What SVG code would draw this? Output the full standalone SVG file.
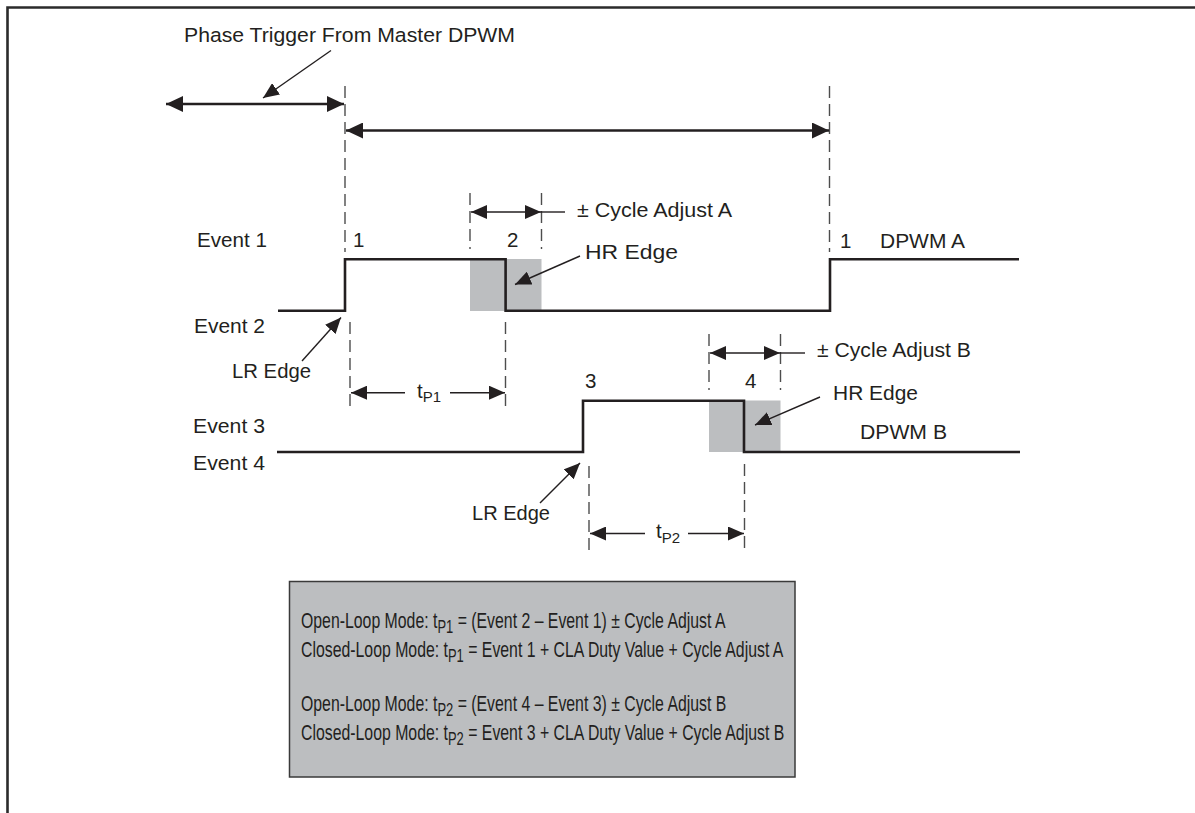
<svg xmlns="http://www.w3.org/2000/svg" width="1195" height="813" viewBox="0 0 1195 813">
<style>
text{font-family:"Liberation Sans",Arial,sans-serif;fill:#231f20;font-size:20.5px}
.sub{font-size:15px}
.bsub{font-size:18px}
.box{font-size:22px}
.wave{fill:none;stroke:#231f20;stroke-width:2.6;stroke-linejoin:miter}
.dash{stroke:#4d4d4d;stroke-width:1.4;stroke-dasharray:12 6;fill:none}
.arr{stroke:#231f20;stroke-width:2.4;fill:none}
.arrs{stroke:#231f20;stroke-width:1.4;fill:none}
.shade{fill:#bcbec0}
</style>
<defs>
<marker id="ah" markerUnits="userSpaceOnUse" markerWidth="17" markerHeight="16" refX="17" refY="8" orient="auto-start-reverse">
<path d="M0,0 L17,8 L0,16 z" fill="#231f20"/>
</marker>
<marker id="ahs" markerUnits="userSpaceOnUse" markerWidth="16" markerHeight="14" refX="16" refY="7" orient="auto-start-reverse">
<path d="M0,0 L16,7 L0,14 z" fill="#231f20"/>
</marker>
</defs>
<rect width="1195" height="813" fill="#fff"/>
<g id="frame">
<path d="M7.5,813 V7.5 H1195" fill="none" stroke="#2b2b2b" stroke-width="2.6"/>
</g>
<g id="shading">
<rect class="shade" x="470" y="259" width="71.5" height="52"/>
<rect class="shade" x="709" y="400.5" width="71.5" height="51.5"/>
</g>
<g id="dashes">
<line class="dash" x1="345" y1="86" x2="345" y2="252"/>
<line class="dash" x1="829.5" y1="86" x2="829.5" y2="252"/>
<line class="dash" x1="470" y1="193" x2="470" y2="249"/>
<line class="dash" x1="541.5" y1="193" x2="541.5" y2="249"/>
<line class="dash" x1="350" y1="322" x2="350" y2="411"/>
<line class="dash" x1="505.5" y1="322" x2="505.5" y2="411"/>
<line class="dash" x1="709" y1="334" x2="709" y2="390"/>
<line class="dash" x1="780.5" y1="334" x2="780.5" y2="390"/>
<line class="dash" x1="589" y1="466" x2="589" y2="553"/>
<line class="dash" x1="744.5" y1="464" x2="744.5" y2="553"/>
</g>
<g id="dpwm-a">
<path class="wave" d="M278,310.7 H345 V259.3 H505.6 V310.7 H830 V259.3 H1019"/>
</g>
<g id="dpwm-b">
<path class="wave" d="M277,452 H583 V400.7 H744 V452 H1020"/>
</g>
<g id="connectors">
<line class="arr" x1="166" y1="104" x2="344" y2="104" marker-start="url(#ah)" marker-end="url(#ah)"/>
<line class="arr" x1="346" y1="130.5" x2="829" y2="130.5" marker-start="url(#ah)" marker-end="url(#ah)"/>
<line class="arrs" x1="331" y1="50.5" x2="263" y2="98" marker-end="url(#ahs)"/>
<line class="arrs" x1="471" y1="212" x2="541" y2="212" marker-start="url(#ahs)" marker-end="url(#ahs)"/>
<line class="arrs" x1="541" y1="212" x2="565" y2="212"/>
<line class="arrs" x1="580" y1="256" x2="515" y2="284.5" marker-end="url(#ahs)"/>
<line class="arrs" x1="302" y1="361" x2="341" y2="317.5" marker-end="url(#ahs)"/>
<line class="arrs" x1="351" y1="392.7" x2="405" y2="392.7" marker-start="url(#ahs)"/>
<line class="arrs" x1="450" y1="392.7" x2="505" y2="392.7" marker-end="url(#ahs)"/>
<line class="arrs" x1="710" y1="353" x2="780" y2="353" marker-start="url(#ahs)" marker-end="url(#ahs)"/>
<line class="arrs" x1="780" y1="353" x2="805" y2="353"/>
<line class="arrs" x1="820" y1="397" x2="755" y2="425" marker-end="url(#ahs)"/>
<line class="arrs" x1="540" y1="503" x2="580" y2="463" marker-end="url(#ahs)"/>
<line class="arrs" x1="590" y1="533.5" x2="645" y2="533.5" marker-start="url(#ahs)"/>
<line class="arrs" x1="688" y1="533.5" x2="744" y2="533.5" marker-end="url(#ahs)"/>
</g>
<g id="labels">
<text x="184" y="42" textLength="331" lengthAdjust="spacingAndGlyphs">Phase Trigger From Master DPWM</text>
<text x="197" y="247" textLength="70" lengthAdjust="spacingAndGlyphs">Event 1</text>
<text x="194" y="333" textLength="71" lengthAdjust="spacingAndGlyphs">Event 2</text>
<text x="193" y="433" textLength="72" lengthAdjust="spacingAndGlyphs">Event 3</text>
<text x="193" y="470" textLength="72" lengthAdjust="spacingAndGlyphs">Event 4</text>
<text x="353" y="247">1</text>
<text x="507" y="247">2</text>
<text x="840" y="248">1</text>
<text x="880" y="248" textLength="85" lengthAdjust="spacingAndGlyphs">DPWM A</text>
<text x="577" y="217" textLength="155" lengthAdjust="spacingAndGlyphs">± Cycle Adjust A</text>
<text x="585" y="259" textLength="93" lengthAdjust="spacingAndGlyphs">HR Edge</text>
<text x="232" y="378" textLength="79" lengthAdjust="spacingAndGlyphs">LR Edge</text>
<text x="417" y="398">t<tspan class="sub" dy="4">P1</tspan></text>
<text x="585" y="388">3</text>
<text x="745" y="388">4</text>
<text x="817" y="357" textLength="154" lengthAdjust="spacingAndGlyphs">± Cycle Adjust B</text>
<text x="833" y="400" textLength="85" lengthAdjust="spacingAndGlyphs">HR Edge</text>
<text x="860" y="439" textLength="87" lengthAdjust="spacingAndGlyphs">DPWM B</text>
<text x="472" y="520" textLength="78" lengthAdjust="spacingAndGlyphs">LR Edge</text>
<text x="656" y="538">t<tspan class="sub" dy="5">P2</tspan></text>
</g>
<g id="formula-box">
<rect x="289.5" y="581.5" width="505.5" height="195.5" fill="#bcbec0" stroke="#3a3a3a" stroke-width="1.5"/>
<text class="box" transform="translate(301,628) scale(0.72,1)">Open-Loop Mode: t<tspan class="bsub" dy="5">P1</tspan><tspan dy="-5"> = (Event 2 – Event 1) ± Cycle Adjust A</tspan></text>
<text class="box" transform="translate(301,657) scale(0.72,1)">Closed-Loop Mode: t<tspan class="bsub" dy="5">P1</tspan><tspan dy="-5"> = Event 1 + CLA Duty Value + Cycle Adjust A</tspan></text>
<text class="box" transform="translate(301,711) scale(0.72,1)">Open-Loop Mode: t<tspan class="bsub" dy="5">P2</tspan><tspan dy="-5"> = (Event 4 – Event 3) ± Cycle Adjust B</tspan></text>
<text class="box" transform="translate(301,740) scale(0.72,1)">Closed-Loop Mode: t<tspan class="bsub" dy="5">P2</tspan><tspan dy="-5"> = Event 3 + CLA Duty Value + Cycle Adjust B</tspan></text>
</g>
</svg>
